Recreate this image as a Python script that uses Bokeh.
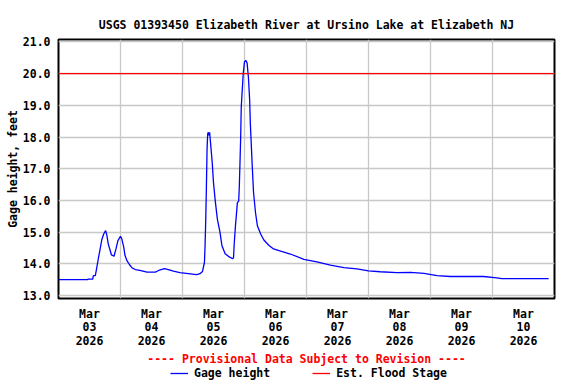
import pandas as pd
from bokeh.plotting import figure
from bokeh.layouts import column
from bokeh.models import (Range1d, FixedTicker, Label, Legend, LegendItem,
                          NumeralTickFormatter, ColumnDataSource)
from bokeh.embed import file_html
from bokeh.resources import INLINE

# ---------------- data ----------------
title_text = "USGS 01393450 Elizabeth River at Ursino Lake at Elizabeth NJ"
y_label = "Gage height, feet"
footer_text = "---- Provisional Data Subject to Revision ----"
series_name = "Gage height"
flood_name = "Est. Flood Stage"

times = [
    "2026-03-03 00:00", "2026-03-03 11:15", "2026-03-03 11:30", "2026-03-03 13:15",
    "2026-03-03 13:30", "2026-03-03 14:15", "2026-03-03 14:45", "2026-03-03 15:30",
    "2026-03-03 16:00", "2026-03-03 16:45", "2026-03-03 17:30", "2026-03-03 18:15",
    "2026-03-03 18:45", "2026-03-03 19:15", "2026-03-03 20:00", "2026-03-03 20:30",
    "2026-03-03 21:30", "2026-03-03 22:15", "2026-03-03 23:00", "2026-03-04 00:00",
    "2026-03-04 00:30", "2026-03-04 01:15", "2026-03-04 01:45", "2026-03-04 02:30",
    "2026-03-04 03:30", "2026-03-04 04:30", "2026-03-04 05:45", "2026-03-04 07:30",
    "2026-03-04 10:15", "2026-03-04 13:30", "2026-03-04 14:45", "2026-03-04 17:00",
    "2026-03-04 18:30", "2026-03-04 20:30", "2026-03-04 23:00", "2026-03-05 02:15",
    "2026-03-05 05:30", "2026-03-05 06:45", "2026-03-05 07:45", "2026-03-05 08:30",
    "2026-03-05 08:45", "2026-03-05 09:00", "2026-03-05 09:15", "2026-03-05 09:30",
    "2026-03-05 09:45", "2026-03-05 10:00", "2026-03-05 10:15", "2026-03-05 10:30",
    "2026-03-05 11:30", "2026-03-05 12:00", "2026-03-05 12:45", "2026-03-05 13:30",
    "2026-03-05 14:30", "2026-03-05 15:15", "2026-03-05 16:30", "2026-03-05 18:15",
    "2026-03-05 19:30", "2026-03-05 19:45", "2026-03-05 20:00", "2026-03-05 20:30",
    "2026-03-05 21:15", "2026-03-05 21:45", "2026-03-05 22:00", "2026-03-05 22:30",
    "2026-03-05 22:45", "2026-03-05 23:30", "2026-03-06 00:00", "2026-03-06 00:30",
    "2026-03-06 01:00", "2026-03-06 01:30", "2026-03-06 02:00", "2026-03-06 02:15",
    "2026-03-06 03:00", "2026-03-06 03:30", "2026-03-06 04:15", "2026-03-06 05:00",
    "2026-03-06 06:15", "2026-03-06 07:30", "2026-03-06 09:30", "2026-03-06 11:15",
    "2026-03-06 14:00", "2026-03-06 17:45", "2026-03-06 23:00", "2026-03-07 04:00",
    "2026-03-07 09:15", "2026-03-07 14:30", "2026-03-07 19:30", "2026-03-08 00:00",
    "2026-03-08 04:30", "2026-03-08 11:00", "2026-03-08 16:15", "2026-03-08 21:30",
    "2026-03-09 02:30", "2026-03-09 07:45", "2026-03-09 13:00", "2026-03-09 20:30",
    "2026-03-10 01:45", "2026-03-10 03:30", "2026-03-10 21:45",
]
gage_ft = [
    13.50, 13.50, 13.52, 13.52,
    13.63, 13.63, 13.85, 14.20,
    14.42, 14.76, 14.94, 15.05,
    14.89, 14.63, 14.42, 14.28,
    14.24, 14.47, 14.73, 14.87,
    14.79, 14.53, 14.26, 14.10,
    13.97, 13.87, 13.82, 13.79,
    13.74, 13.74, 13.79, 13.85,
    13.82, 13.77, 13.72, 13.69,
    13.66, 13.69, 13.76, 14.05,
    14.60, 15.40, 16.40, 17.60,
    18.10, 18.15, 18.05, 18.15,
    17.20, 16.56, 15.93, 15.41,
    15.00, 14.58, 14.32, 14.21,
    14.16, 14.20, 14.60, 15.20,
    15.93, 15.98, 16.45, 17.92,
    18.96, 20.00, 20.37, 20.42,
    20.34, 19.90, 19.17, 18.44,
    17.08, 16.25, 15.62, 15.20,
    14.94, 14.75, 14.58, 14.47,
    14.40, 14.31, 14.14, 14.06,
    13.96, 13.88, 13.84, 13.78,
    13.75, 13.72, 13.73, 13.70,
    13.63, 13.60, 13.60, 13.60,
    13.56, 13.53, 13.53,
]
flood_stage_ft = 20.0

label_days = ["2026-03-03", "2026-03-04", "2026-03-05", "2026-03-06",
              "2026-03-07", "2026-03-08", "2026-03-09", "2026-03-10"]
x_start_day = "2026-03-03"
x_end_day = "2026-03-11"
y_ticks = [13, 14, 15, 16, 17, 18, 19, 20, 21]
y_min, y_max = 12.906, 21.078


def to_ms(s):
    return float(pd.Timestamp(s).value // 10**6)


DAY_MS = 86400000.0
x_ms = [to_ms(t) for t in times]
x0 = to_ms(x_start_day)
x1 = to_ms(x_end_day)
noon_ticks = [to_ms(d) + DAY_MS / 2 for d in label_days]
midnight_ticks = [to_ms(d) for d in label_days[1:]]
overrides = {}
for d, tk in zip(label_days, noon_ticks):
    ts = pd.Timestamp(d)
    overrides[tk] = ts.strftime("%b") + "\n" + ts.strftime("%d") + "\n" + ts.strftime("%Y")

FONT = "DejaVu Sans Mono"
FS = "11.5px"

p = figure(width=576, height=350, output_backend="svg", toolbar_location=None,
           x_range=Range1d(x0, x1), y_range=Range1d(y_min, y_max),
           min_border_left=58, min_border_right=22, min_border_top=39,
           min_border_bottom=50)
p.background_fill_color = "white"
p.border_fill_color = "white"
p.outline_line_color = "black"
p.outline_line_width = 2

p.title.text = title_text
p.title.align = "center"
p.title.text_font = FONT
p.title.text_font_style = "bold"
p.title.text_font_size = FS
p.title.text_color = "black"
p.title.standoff = 16

src = ColumnDataSource(dict(x=x_ms, y=gage_ft))
flood_src = ColumnDataSource(dict(x=[x0, x1], y=[flood_stage_ft, flood_stage_ft]))
p.line("x", "y", source=src, line_color="#0000ff", line_width=1.3)
p.line("x", "y", source=flood_src, line_color="#ff0000", line_width=1.3)

# axes
xa = p.xaxis[0]
xa.ticker = FixedTicker(ticks=noon_ticks)
xa.major_label_overrides = overrides
ya = p.yaxis[0]
ya.ticker = FixedTicker(ticks=y_ticks)
ya.formatter = NumeralTickFormatter(format="0.0")
ya.axis_label = y_label
for ax in (xa, ya):
    ax.axis_line_color = None
    ax.major_tick_line_color = None
    ax.minor_tick_line_color = None
    ax.major_tick_out = 0
    ax.major_tick_in = 0
    ax.major_label_text_font = FONT
    ax.major_label_text_font_style = "bold"
    ax.major_label_text_font_size = FS
    ax.major_label_text_color = "black"
    ax.axis_label_text_font = FONT
    ax.axis_label_text_font_style = "bold"
    ax.axis_label_text_font_size = FS
    ax.axis_label_text_color = "black"
xa.major_label_standoff = 8
xa.major_label_text_line_height = 0.97
ya.major_label_standoff = 8
ya.axis_label_standoff = 0

p.xgrid.ticker = FixedTicker(ticks=midnight_ticks)
p.ygrid.ticker = FixedTicker(ticks=y_ticks)
for g in (p.xgrid[0], p.ygrid[0]):
    g.grid_line_color = "#c8c8c8"
    g.grid_line_width = 1.3

# ---- footer strip: provisional note + legend (frame aligned with main plot) ----
q = figure(width=576, height=34, output_backend="svg", toolbar_location=None,
           x_range=Range1d(0, 1), y_range=Range1d(0, 1),
           min_border_left=0, min_border_right=0, min_border_top=0,
           min_border_bottom=0)
q.axis.visible = False
q.grid.visible = False
q.outline_line_color = None
q.background_fill_color = "white"
q.border_fill_color = "white"
# same series, out of this strip's range: only their legend swatches show
lg_gage = q.line("x", "y", source=src, line_color="#0000ff", line_width=1.3)
lg_flood = q.line("x", "y", source=flood_src, line_color="#ff0000", line_width=1.3)

q.add_layout(Label(x=248, y=26, x_units="screen", y_units="screen",
                   text=footer_text, text_align="center", text_baseline="middle",
                   text_font=FONT, text_font_style="bold", text_font_size=FS,
                   text_color="#ff0000"))
legend = Legend(items=[LegendItem(label=series_name, renderers=[lg_gage]),
                       LegendItem(label=flood_name, renderers=[lg_flood])],
                location=(112, 4), orientation="horizontal",
                padding=0, margin=0, spacing=42, label_standoff=6,
                glyph_width=18, glyph_height=14, label_height=14,
                border_line_color=None, background_fill_alpha=0,
                label_text_font=FONT, label_text_font_style="bold",
                label_text_font_size=FS, label_text_color="black")
q.add_layout(legend, "center")

layout = column(p, q, spacing=0)
open("out.html", "w").write(file_html(layout, INLINE))
